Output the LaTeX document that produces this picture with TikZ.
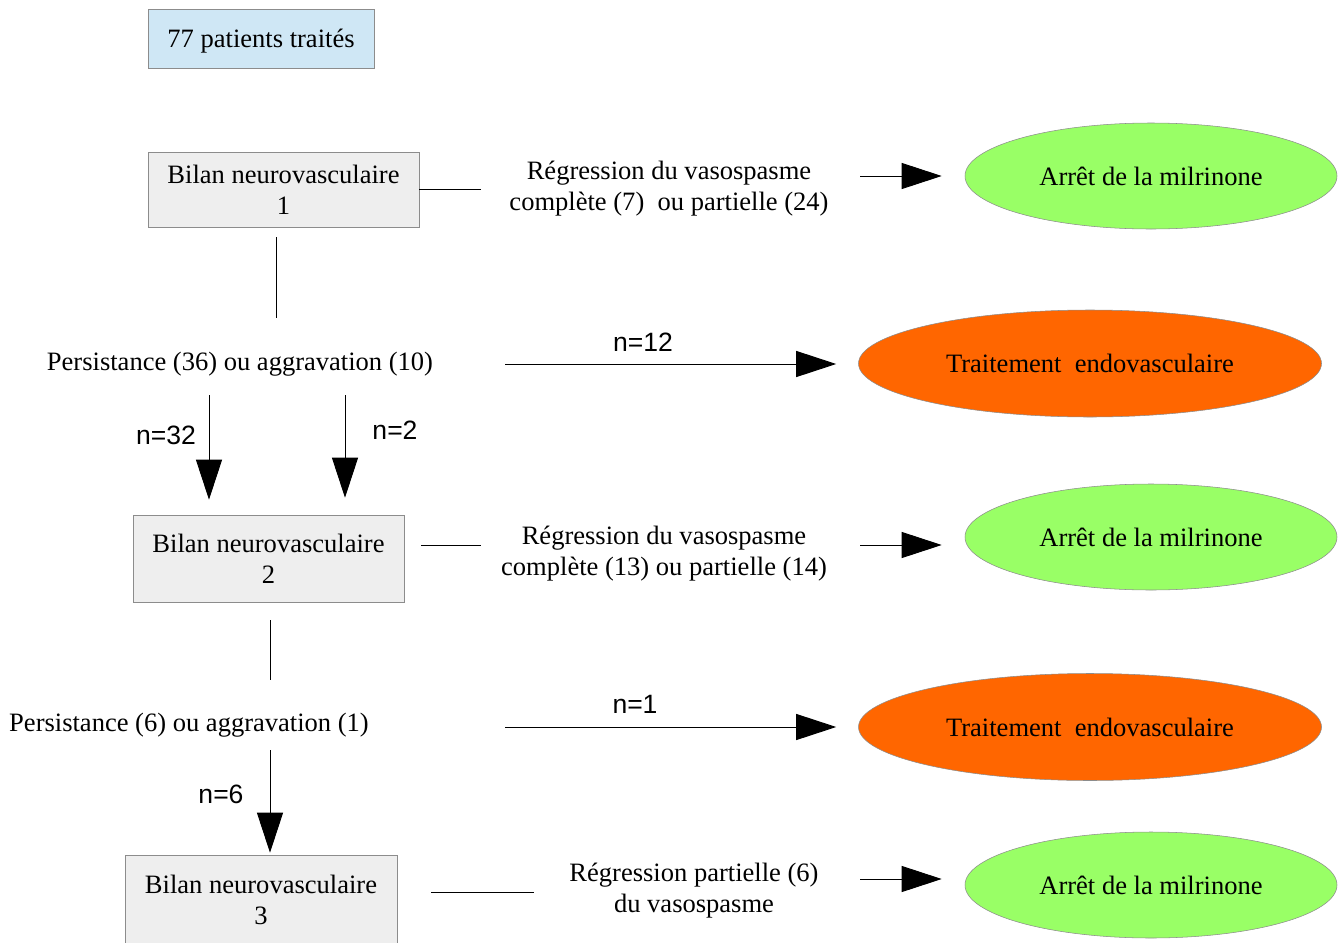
\documentclass[tikz,border=0pt]{standalone}
\usepackage{fontspec}
\setmainfont{Liberation Serif}
\newfontfamily\nfont{Liberation Sans}
\usetikzlibrary{shapes.geometric,arrows.meta}
\definecolor{boxgray}{HTML}{EEEEEE}
\definecolor{boxblue}{HTML}{CFE7F5}
\definecolor{stopgreen}{HTML}{99FF66}
\definecolor{endoorange}{HTML}{FF6600}
\definecolor{edgegray}{HTML}{8C8C8C}

\begin{document}
\begin{tikzpicture}[x=0.75pt,y=-0.75pt,
  every node/.style={font=\fontsize{19.9}{23.3}\selectfont,align=center,inner sep=0pt},
  bilan/.style={draw=edgegray,fill=boxgray,minimum width=203.25pt},
  stopnode/.style={ellipse,draw=edgegray,fill=stopgreen,minimum width=279pt,minimum height=79.5pt},
  endonode/.style={ellipse,draw=edgegray,fill=endoorange,minimum width=347.25pt,minimum height=80.25pt},
  nlabel/.style={font=\nfont\fontsize{19.9}{23.3}\selectfont},
  fleche/.style={-{Triangle[length=30pt,width=19.5pt]},line width=0.7pt},
  trait/.style={line width=0.7pt}]
\useasboundingbox (0,0) rectangle (1340,943);

\node[draw=edgegray,fill=boxblue,minimum width=169.5pt,minimum height=44.25pt,text height=18pt,text depth=4.3pt] (total) at (261,38.5) {77 patients traités};

\node[bilan,minimum height=56.25pt] (b1) at (283.5,189.5) {Bilan neurovasculaire\\1};
\node[bilan,minimum height=65.25pt] (b2) at (268.5,558.5) {Bilan neurovasculaire\\2};
\node[bilan,minimum width=204pt,minimum height=67.5pt] (b3) at (261,900) {Bilan neurovasculaire\\3};

\node (reg1) at (669,189) {Régression du vasospasme\\complète (7)\ \ ou partielle (24)};
\node (reg2) at (664,554) {Régression du vasospasme\\complète (13) ou partielle (14)};
\node (reg3) at (694,891) {Régression partielle (6)\\du vasospasme};

\node (pers1) at (240,364) {Persistance (36) ou aggravation (10)};
\node (pers2) at (189,725) {Persistance (6) ou aggravation (1)};

\node[stopnode] (stop1) at (1151,176) {Arrêt de la milrinone};
\node[stopnode] (stop2) at (1151,537) {Arrêt de la milrinone};
\node[stopnode] (stop3) at (1151,885) {Arrêt de la milrinone};
\node[endonode] (endo1) at (1090,363.5) {Traitement~ endovasculaire};
\node[endonode] (endo2) at (1090,727) {Traitement~ endovasculaire};

\node[nlabel] (n12) at (643,342) {n=12};
\node[nlabel] (n1) at (635,704) {n=1};
\node[nlabel] (n32) at (166,435) {n=32};
\node[nlabel] (n2) at (395,430) {n=2};
\node[nlabel] (n6) at (221,794) {n=6};

% free ends
\coordinate (r1) at (481,189);
\coordinate (r2) at (481,545);
\coordinate (r3a) at (431,892);
\coordinate (r3b) at (534,892);
\coordinate (s1) at (860,176);
\coordinate (s2) at (860,545);
\coordinate (s3) at (860,879);
\coordinate (v1a) at (276,237);
\coordinate (v1b) at (276,318);
\coordinate (v2a) at (270,620);
\coordinate (v2b) at (270,680);
\coordinate (e1) at (505,364);
\coordinate (e2) at (505,727);
\coordinate (d1) at (209,395);
\coordinate (d2) at (345,395);
\coordinate (d3) at (270,750);

\draw[trait] (b1.east |- r1) -- (r1);
\draw[trait] (b2.east |- r2) ++(17,0) -- (r2);
\draw[trait] (r3a) -- (r3b);
\draw[trait] (v1a) -- (v1b);
\draw[trait] (v2a) -- (v2b);

\draw[fleche,shorten >=17.25pt] (s1) -- (s1 -| stop1.west);
\draw[fleche,shorten >=17.25pt] (s2) -- (s2 -| stop2.west);
\draw[fleche,shorten >=17.25pt] (s3) -- (s3 -| stop3.west);
\draw[fleche,shorten >=16.5pt] (e1) -- (e1 -| endo1.west);
\draw[fleche,shorten >=16.5pt] (e2) -- (e2 -| endo2.west);
\draw[fleche,shorten >=11.25pt] (d1) -- (d1 |- b2.north);
\draw[fleche,shorten >=12.75pt] (d2) -- (d2 |- b2.north);
\draw[fleche,shorten >=1.5pt] (d3) -- (d3 |- b3.north);
\end{tikzpicture}
\end{document}
